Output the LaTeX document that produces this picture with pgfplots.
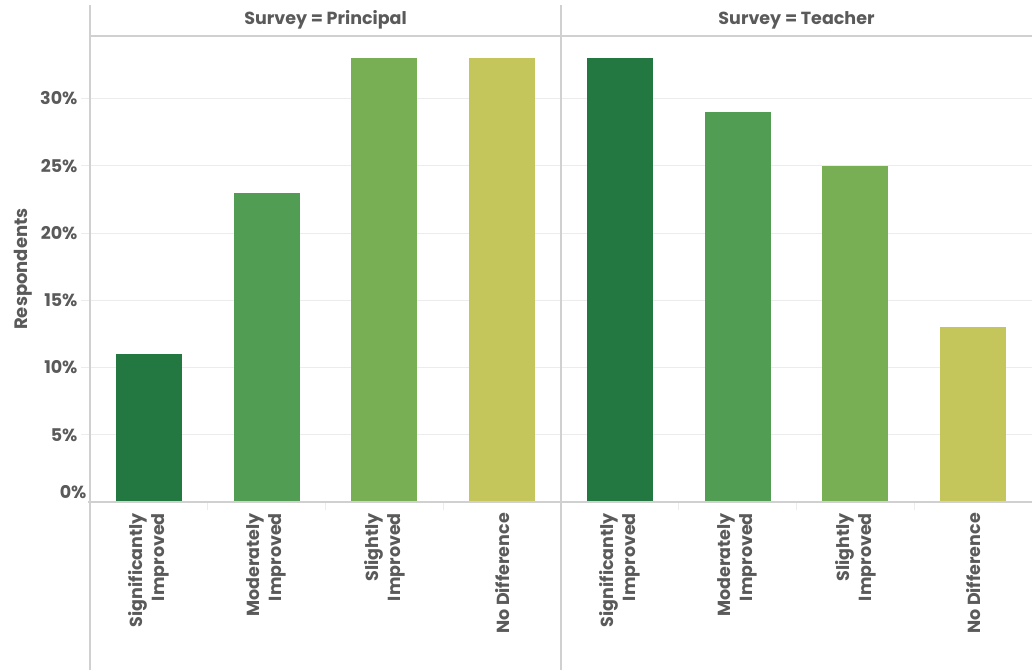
\documentclass[border=0pt]{standalone}
\usepackage{fontspec}
\setmainfont{Poppins}
\usepackage{pgfplots}
\pgfplotsset{compat=1.18}
\definecolor{cSig}{RGB}{35,120,65}
\definecolor{cMod}{RGB}{80,157,83}
\definecolor{cSli}{RGB}{120,175,85}
\definecolor{cNo}{RGB}{196,198,92}
\definecolor{txt}{RGB}{90,90,90}
\definecolor{gridc}{RGB}{236,236,236}
\definecolor{linec}{RGB}{208,208,208}
\begin{document}
\begin{tikzpicture}
\path[use as bounding box] (0pt,0pt) rectangle (1032pt,670pt);
\pgfplotsset{panel/.style={
  scale only axis, width=471pt, height=466pt,
  xmin=-0.5, xmax=3.5, ymin=0, ymax=34.65,
  axis line style={draw=none},
  ybar, bar width=66pt, bar shift=0pt,
  xtick={0,1,2,3},
  minor xtick={0.5,1.5,2.5},
  xtick pos=bottom, ytick pos=left, tick align=outside,
  major tick length=9pt, minor tick length=8pt,
  major x tick style={draw=none},
  minor x tick style={draw=gridc, line width=1pt},
  ytick={5,10,15,20,25,30},
  ymajorgrids, major grid style={draw=gridc, line width=1pt},
  y tick style={draw=gridc, line width=1pt},
  xticklabels={{Significantly\\Improved},{Moderately\\Improved},{Slightly\\Improved},{No Difference}},
  x tick label style={rotate=90, anchor=east, align=right, font=\fontsize{17.5}{22}\selectfont\bfseries, text=txt, inner sep=2pt},
  /pgf/number format/assume math mode=true,
  y tick label style={font=\fontsize{17.5}{20}\selectfont\bfseries, text=txt},
  yticklabel={\pgfmathprintnumber{\tick}\%},
  clip=false,
}}
\begin{scope}[shift={(90pt,168pt)}]
\begin{axis}[panel, anchor=south west, at={(0pt,0pt)},
  extra y ticks={0}, extra y tick style={tick label style={yshift=10pt}, major tick length=0pt},
  ylabel={Respondents}, ylabel shift=-8pt, ylabel style={font=\fontsize{18}{20}\selectfont\bfseries, text=txt},
]
\addplot[fill=cSig, draw=none] coordinates {(0,11)};
\addplot[fill=cMod, draw=none] coordinates {(1,23)};
\addplot[fill=cSli, draw=none] coordinates {(2,33)};
\addplot[fill=cNo, draw=none] coordinates {(3,33)};
\end{axis}
\end{scope}
\begin{scope}[shift={(561pt,168pt)}]
\begin{axis}[panel, anchor=south west, at={(0pt,0pt)}, yticklabels={}, y tick style={draw=none}]
\addplot[fill=cSig, draw=none] coordinates {(0,33)};
\addplot[fill=cMod, draw=none] coordinates {(1,29)};
\addplot[fill=cSli, draw=none] coordinates {(2,25)};
\addplot[fill=cNo, draw=none] coordinates {(3,13)};
\end{axis}
\end{scope}
% frame lines
\draw[linec, line width=1.5pt] (90pt,634pt) -- (1032pt,634pt);
\draw[linec, line width=1.5pt] (88pt,168pt) -- (1032pt,168pt);
\draw[linec, line width=2pt] (90pt,0pt) -- (90pt,665pt);
\draw[linec, line width=2pt] (561pt,0pt) -- (561pt,665pt);
\node[text=txt, font=\fontsize{17.5}{20}\selectfont\bfseries] at (325.5pt,650pt) {Survey = Principal};
\node[text=txt, font=\fontsize{17.5}{20}\selectfont\bfseries] at (796.5pt,650pt) {Survey = Teacher};
\end{tikzpicture}
\end{document}
